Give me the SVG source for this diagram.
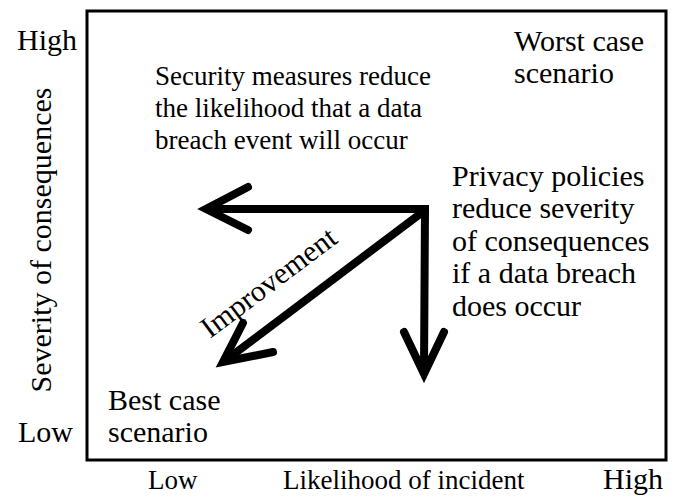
<svg xmlns="http://www.w3.org/2000/svg" width="675" height="497" viewBox="0 0 675 497">
<style>
text{font-family:"Liberation Serif","Times New Roman",serif;font-size:30px;fill:#000}
.s27{font-size:27px}
.frame{fill:#fff;stroke:#000;stroke-width:3}
.shaft{fill:none;stroke:#000;stroke-width:8;stroke-linejoin:miter}
.head{fill:none;stroke:#000;stroke-width:8;stroke-linecap:round;stroke-linejoin:miter;stroke-miterlimit:10}
</style>
<rect width="675" height="497" fill="#fff"/>
<g id="axes">
<rect class="frame" x="87" y="11" width="579" height="449"/>
<text x="17" y="50">High</text>
<text x="18" y="442">Low</text>
<text transform="translate(51 240) rotate(-90)" text-anchor="middle">Severity of consequences</text>
<text class="s27" x="148" y="489">Low</text>
<text class="s27" x="283" y="489">Likelihood of incident</text>
<text x="603" y="489">High</text>
</g>
<g id="worst"><text x="514" y="51">Worst case</text><text x="514" y="83">scenario</text></g>
<g id="security"><text class="s27" x="155" y="85">Security measures reduce</text><text class="s27" x="155" y="117">the likelihood that a data</text><text class="s27" x="155" y="149">breach event will occur</text></g>
<g id="privacy"><text x="452" y="186">Privacy policies</text><text x="452" y="218">reduce severity</text><text x="452" y="251">of consequences</text><text x="452" y="283">if a data breach</text><text x="452" y="316">does occur</text></g>
<g id="best"><text x="108" y="410">Best case</text><text x="108" y="442">scenario</text></g>
<g id="connectors">
<path class="shaft" d="M210 209 L425 209 L424 370"/>
<path class="shaft" d="M424 211 L226 360"/>
<polyline class="head" points="248,187 206,209 248,230"/>
<polyline class="head" points="404,332 424,374 444,332"/>
<polyline class="head" points="243,323 223,362 273,352"/>
<text transform="translate(210 339) rotate(-37)">Improvement</text>
</g>
</svg>
